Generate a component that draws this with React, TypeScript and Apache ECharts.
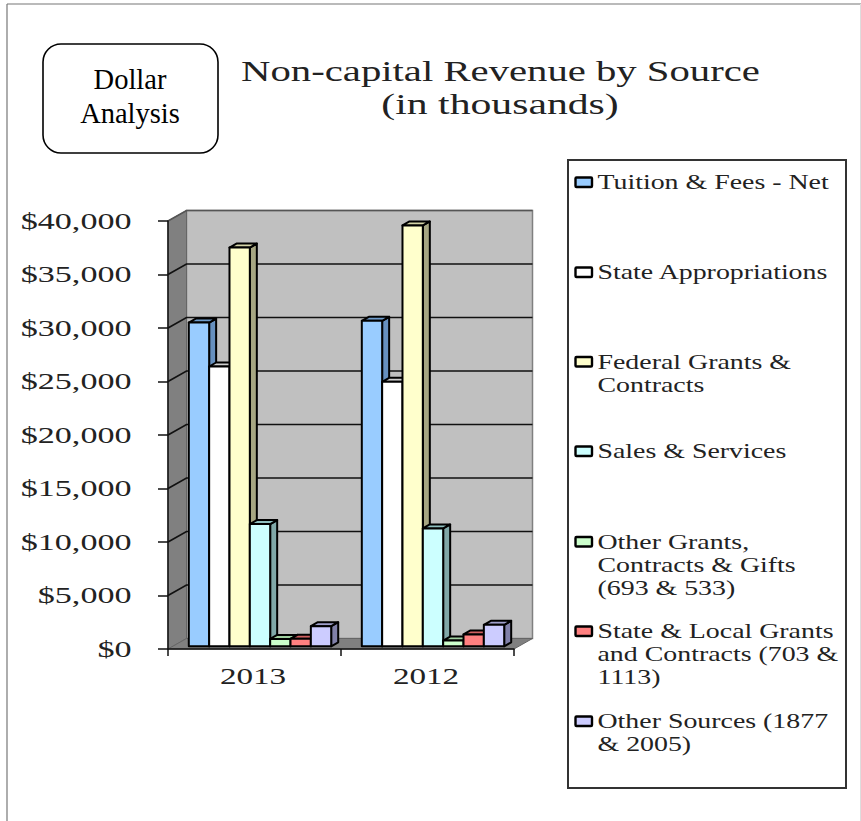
import React, { useEffect, useRef } from "react";
import * as echarts from "echarts";

const CATEGORIES = ["2013", "2012"];
const Y_TICKS = [0, 5000, 10000, 15000, 20000, 25000, 30000, 35000, 40000];
const Y_TICK_LABELS = ["$0", "$5,000", "$10,000", "$15,000", "$20,000", "$25,000", "$30,000", "$35,000", "$40,000"];

const TUITION = [30260, 30420];
const STATE_APPROPRIATIONS = [26150, 24720];
const FEDERAL = [37270, 39330];
const SALES = [11420, 11010];
const OTHER_GRANTS = [693, 533];
const STATE_LOCAL = [703, 1113];
const OTHER_SOURCES = [1877, 2005];

const SERIES_VALUES = [TUITION, STATE_APPROPRIATIONS, FEDERAL, SALES, OTHER_GRANTS, STATE_LOCAL, OTHER_SOURCES];
const SERIES_NAMES = [
  "Tuition & Fees - Net",
  "State Appropriations",
  "Federal Grants &\nContracts",
  "Sales & Services",
  "Other Grants,\nContracts & Gifts\n(693 & 533)",
  "State & Local Grants\nand Contracts (703 &\n1113)",
  "Other Sources (1877\n& 2005)",
];
const FRONT = ["#99CCFF", "#FFFFFF", "#FFFFCC", "#CCFFFF", "#CCFFCC", "#FF8080", "#CCCCFF"];
const SIDE = ["#6690BF", "#A6A6A6", "#A6A682", "#80A8A8", "#80A880", "#A65353", "#8080A8"];
const TOP = ["#6F9CCB", "#D0D0D0", "#D5D5A8", "#8FC0C0", "#A0D0A0", "#D06060", "#A0A0CC"];

const SERIF = "Liberation Serif";
const TEXT = "#222222";
const LINE = "#111111";

const GRID = { left: 168, top: 221, width: 346, height: 428 };
const WALL_DX = 18.5;
const WALL_DY = -10.5;
const BAR_DX = 7;
const BAR_DY = -4;
const BAR_SHIFT_X = 5.5;
const BAR_SHIFT_Y = -2.7;
const BAR_GROUP_SHARE = 0.823;

const LEGEND_ROWS = [182, 272, 361.5, 451, 541.5, 631, 721];
const LEGEND_BOX = { x: 568, y: 160, width: 278, height: 628 };

function wallItem(params: any, api: any) {
  const v = api.value(1);
  const [x0, y] = api.coord([0, v]);
  const width = api.size([1, 0])[0] * CATEGORIES.length;
  const left = x0 - width / (CATEGORIES.length * 2);
  const right = left + width;
  const children: any[] = [];
  if (params.dataIndex === 0) {
    const yTop = api.coord([0, Y_TICKS[Y_TICKS.length - 1]])[1];
    children.push(
      {
        type: "polygon",
        shape: { points: [[left + WALL_DX, yTop + WALL_DY], [right + WALL_DX, yTop + WALL_DY], [right + WALL_DX, y + WALL_DY], [left + WALL_DX, y + WALL_DY]] },
        style: { fill: "#C0C0C0", stroke: "#808080", lineWidth: 1.5 },
      },
      {
        type: "polygon",
        shape: { points: [[left, yTop], [left + WALL_DX, yTop + WALL_DY], [left + WALL_DX, y + WALL_DY], [left, y]] },
        style: { fill: "#808080", stroke: "#666666", lineWidth: 1 },
      },
      {
        type: "polygon",
        shape: { points: [[left, y], [left + WALL_DX, y + WALL_DY], [right + WALL_DX, y + WALL_DY], [right, y]] },
        style: { fill: "#808080", stroke: "#666666", lineWidth: 1 },
      },
    );
  } else {
    children.push({
      type: "polyline",
      shape: { points: [[left, y], [left + WALL_DX, y + WALL_DY], [right + WALL_DX, y + WALL_DY]] },
      style: { fill: "none", stroke: params.dataIndex === Y_TICKS.length - 1 ? "#555555" : LINE, lineWidth: 1.7 },
    });
  }
  children.push({
    type: "text",
    x: left - 36.5,
    y: y - 0.5,
    scaleX: 1.42,
    style: {
      text: Y_TICK_LABELS[params.dataIndex],
      fontFamily: SERIF,
      fontSize: 24,
      fill: TEXT,
      align: "right",
      verticalAlign: "middle",
      textAlign: "right",
      textVerticalAlign: "middle",
    },
  });
  return { type: "group", children };
}

function categoryLabelItem(params: any, api: any) {
  const [x, y] = api.coord([api.value(0), 0]);
  return {
    type: "text",
    x: x - 1.5,
    y: y + 27,
    scaleX: 1.38,
    style: {
      text: CATEGORIES[params.dataIndex],
      fontFamily: SERIF,
      fontSize: 24,
      fill: TEXT,
      align: "center",
      verticalAlign: "middle",
      textAlign: "center",
      textVerticalAlign: "middle",
    },
  };
}

function barRenderer(seriesIndex: number) {
  return (_params: any, api: any) => {
    const [cx, yValue] = api.coord([api.value(0), api.value(1)]);
    const [, yZero] = api.coord([api.value(0), 0]);
    const w = (api.size([1, 0])[0] * BAR_GROUP_SHARE) / SERIES_VALUES.length;
    const x0 = cx + BAR_SHIFT_X + (seriesIndex - SERIES_VALUES.length / 2) * w;
    const x1 = x0 + w;
    const yB = yZero + BAR_SHIFT_Y;
    const yT = yValue + BAR_SHIFT_Y;
    const stroke = { stroke: "#000000", lineWidth: 2, lineJoin: "round" };
    return {
      type: "group",
      children: [
        {
          type: "polygon",
          shape: { points: [[x1, yT], [x1 + BAR_DX, yT + BAR_DY], [x1 + BAR_DX, yB + BAR_DY], [x1, yB]] },
          style: { fill: SIDE[seriesIndex], ...stroke },
        },
        {
          type: "polygon",
          shape: { points: [[x0, yT], [x0 + BAR_DX, yT + BAR_DY], [x1 + BAR_DX, yT + BAR_DY], [x1, yT]] },
          style: { fill: TOP[seriesIndex], ...stroke },
        },
        {
          type: "polygon",
          shape: { points: [[x0, yT], [x1, yT], [x1, yB], [x0, yB]] },
          style: { fill: FRONT[seriesIndex], ...stroke },
        },
      ],
    };
  };
}

function stretchedText(text: string, x: number, y: number, fontSize: number, scaleX: number, align: string, extra: any = {}) {
  return {
    type: "text",
    x,
    y,
    scaleX,
    z: 20,
    style: {
      text,
      fontFamily: SERIF,
      fontSize,
      fill: TEXT,
      align,
      verticalAlign: "middle",
      textAlign: align,
      textVerticalAlign: "middle",
      ...extra,
    },
  };
}

function buildGraphic() {
  const elements: any[] = [
    { type: "line", shape: { x1: 7, y1: 4, x2: 861, y2: 4 }, style: { stroke: "#777777", lineWidth: 1.2 }, z: 20 },
    { type: "line", shape: { x1: 7, y1: 4, x2: 7, y2: 821 }, style: { stroke: "#777777", lineWidth: 1.2 }, z: 20 },
    { type: "line", shape: { x1: 860.5, y1: 4, x2: 860.5, y2: 821 }, style: { stroke: "#DDDDDD", lineWidth: 1 }, z: 20 },
    {
      type: "rect",
      shape: { x: 43, y: 44, width: 175, height: 109, r: 18 },
      style: { fill: "#FFFFFF", stroke: "#000000", lineWidth: 1.6 },
      z: 20,
    },
    stretchedText("Dollar", 130, 79, 28.5, 1, "center", { fill: "#000000" }),
    stretchedText("Analysis", 130, 113, 28.5, 1, "center", { fill: "#000000" }),
    stretchedText("Non-capital Revenue by Source", 500.5, 71, 30, 1.357, "center"),
    stretchedText("(in thousands)", 500, 104, 30, 1.39, "center"),
    {
      type: "rect",
      shape: { ...LEGEND_BOX },
      style: { fill: "#FFFFFF", stroke: "#333333", lineWidth: 2 },
      z: 20,
    },
  ];
  SERIES_NAMES.forEach((name, i) => {
    elements.push({
      type: "rect",
      shape: { x: 575.5, y: LEGEND_ROWS[i] - 4.5, width: 16.5, height: 9.5, r: 1 },
      style: { fill: FRONT[i], stroke: "#000000", lineWidth: 2.4 },
      z: 20,
    });
    name.split("\n").forEach((line, k) => {
      elements.push(stretchedText(line, 597.5, LEGEND_ROWS[i] + k * 23, 20.5, 1.36, "left"));
    });
  });
  return elements;
}

export default function App() {
  const ref = useRef<HTMLDivElement>(null);
  useEffect(() => {
    const chart = echarts.init(ref.current!, null, { renderer: "svg" });
    chart.setOption({
      animation: false,
      backgroundColor: "#FFFFFF",
      grid: { ...GRID, containLabel: false },
      xAxis: {
        type: "category",
        data: CATEGORIES,
        z: 5,
        axisLine: { show: true, lineStyle: { color: LINE, width: 1.5 } },
        axisTick: { show: true, length: 7, lineStyle: { color: LINE, width: 1.5 } },
        axisLabel: { show: false },
        splitLine: { show: false },
      },
      yAxis: {
        type: "value",
        min: 0,
        max: 40000,
        interval: 5000,
        z: 5,
        axisLine: { show: true, lineStyle: { color: LINE, width: 1.5 } },
        axisTick: { show: true, length: 10, lineStyle: { color: LINE, width: 1.5 } },
        axisLabel: { show: false },
        splitLine: { show: false },
      },
      graphic: { elements: buildGraphic() },
      series: [
        {
          name: "walls",
          type: "custom",
          z: 1,
          silent: true,
          clip: false,
          renderItem: wallItem,
          encode: { x: 0, y: 1 },
          data: Y_TICKS.map((v) => [0, v]),
        },
        {
          name: "categories",
          type: "custom",
          z: 1,
          silent: true,
          clip: false,
          renderItem: categoryLabelItem,
          encode: { x: 0, y: 1 },
          data: CATEGORIES.map((_, i) => [i, 0]),
        },
        ...SERIES_VALUES.map((values, s) => ({
          name: SERIES_NAMES[s].replace(/\n/g, " "),
          type: "custom",
          z: 2,
          clip: false,
          renderItem: barRenderer(s),
          encode: { x: 0, y: 1 },
          data: values.map((v, i) => [i, v]),
        })),
      ],
    });
    return () => chart.dispose();
  }, []);
  return <div ref={ref} style={{ position: "absolute", left: 0, top: 0, width: 861, height: 821 }} />;
}
